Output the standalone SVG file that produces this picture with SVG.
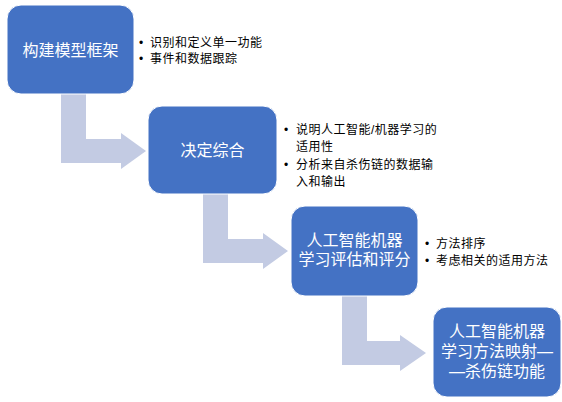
<svg xmlns="http://www.w3.org/2000/svg" width="562" height="402" viewBox="0 0 562 402">
<style>
.box{fill:#4472C4;stroke:#ffffff;stroke-width:1}
.arr{fill:#C3CBE3}
.t{font-family:"Liberation Sans","Noto Sans CJK SC",sans-serif;font-size:16px;fill:#ffffff;text-anchor:middle}
.b{font-family:"Liberation Sans","Noto Sans CJK SC",sans-serif;font-size:12px;fill:#000000;letter-spacing:0.5px}
.d{font-family:"Liberation Sans",sans-serif;font-size:12px;fill:#000000}
</style>
<rect width="562" height="402" fill="#ffffff"/>
<g id="connectors">
<path class="arr" d="M61,92 H86 V139 H121 V133 L146,151 L121,169 V163 H61 Z"/>
<path class="arr" d="M203,192 H228 V239 H263 V233 L288,251 L263,269 V263 H203 Z"/>
<path class="arr" d="M342,294 H367 V341 H400 V335 L426,353 L400,371 V365 H342 Z"/>
</g>
<g id="node1">
<rect class="box" x="7" y="5" width="127" height="89" rx="14"/>
<text class="t" x="70.5" y="56">构建模型框架</text>
<text class="d" x="139" y="47">•</text>
<text class="b" x="150" y="47">识别和定义单一功能</text>
<text class="d" x="139" y="63">•</text>
<text class="b" x="150" y="63">事件和数据跟踪</text>
</g>
<g id="node2">
<rect class="box" x="148" y="106" width="129" height="88" rx="14"/>
<text class="t" x="212.5" y="156">决定综合</text>
<text class="d" x="284" y="134">•</text>
<text class="b" x="296" y="134">说明人工智能/机器学习的</text>
<text class="b" x="296" y="151">适用性</text>
<text class="d" x="284" y="169">•</text>
<text class="b" x="296" y="169">分析来自杀伤链的数据输</text>
<text class="b" x="296" y="186">入和输出</text>
</g>
<g id="node3">
<rect class="box" x="291" y="206" width="127" height="90" rx="14"/>
<text class="t" x="354.5" y="246">人工智能机器</text>
<text class="t" x="354.5" y="265">学习评估和评分</text>
<text class="d" x="425" y="248">•</text>
<text class="b" x="436" y="248">方法排序</text>
<text class="d" x="425" y="265">•</text>
<text class="b" x="436" y="265">考虑相关的适用方法</text>
</g>
<g id="node4">
<rect class="box" x="433" y="307" width="128" height="90" rx="14"/>
<text class="t" x="497" y="337">人工智能机器</text>
<text class="t" x="497" y="357">学习方法映射—</text>
<text class="t" x="497" y="377">—杀伤链功能</text>
</g>
</svg>
